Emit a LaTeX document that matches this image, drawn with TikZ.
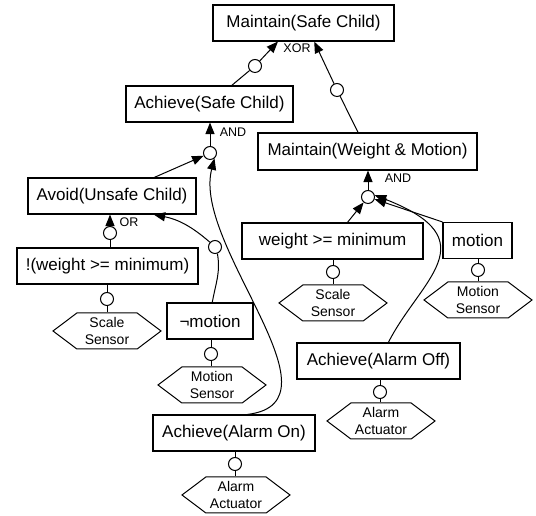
\documentclass[tikz,border=0pt]{standalone}
\usepackage{fontspec}
\setmainfont{Liberation Sans}
\usetikzlibrary{calc,arrows.meta,shapes.symbols}

\begin{document}
\begin{tikzpicture}[x=1pt,y=1pt,
    goal/.style={draw,line width=1.1pt,minimum height=36pt,inner sep=0pt,
      font=\fontsize{17}{20}\selectfont},
    agent/.style={draw,line width=1pt,shape=signal,signal to=east and west,
      signal pointer angle=74,minimum width=108pt,minimum height=36pt,
      inner sep=0pt,align=center,font=\fontsize{14}{17}\selectfont},
    ref/.style={draw,circle,line width=1pt,fill=white,minimum size=13pt,inner sep=0pt},
    op/.style={font=\fontsize{12.5}{14}\selectfont,inner sep=1pt},
    link/.style={line width=1pt},
    arr/.style={line width=1pt,-{Triangle[length=11.5pt,width=9pt]}}]

  \useasboundingbox (0,0) rectangle (536,516);

  \node[goal,minimum width=181pt] (maint) at (303.5,493) {Maintain(Safe Child)};
  \node[goal,minimum width=167pt] (achsc) at (209.5,412) {Achieve(Safe Child)};
  \node[goal,minimum width=219pt,minimum height=37pt] (wm) at (367.5,364.5) {Maintain(Weight \& Motion)};
  \node[goal,minimum width=168pt] (avoid) at (112,320) {Avoid(Unsafe Child)};
  \node[goal,minimum width=181pt] (weight) at (332.5,275) {weight >= minimum};
  \node[goal,minimum width=69pt] (motion) at (477.5,275.5) {motion};
  \node[goal,minimum width=181pt] (notweight) at (107.5,250) {!(weight >= minimum)};
  \node[goal,minimum width=86pt] (notmotion) at (210,195) {¬motion};
  \node[goal,minimum width=162pt] (alarmon) at (234,83) {Achieve(Alarm On)};
  \node[goal,minimum width=163pt] (alarmoff) at (378.5,155) {Achieve(Alarm Off)};

  \node[agent] (scaleL) at (107,185) {Scale\\Sensor};
  \node[agent] (motionL) at (212,131) {Motion\\Sensor};
  \node[agent] (actL) at (236,21) {Alarm\\Actuator};
  \node[agent] (scaleR) at (333,213) {Scale\\Sensor};
  \node[agent] (motionR) at (478,216) {Motion\\Sensor};
  \node[agent] (actR) at (381,95) {Alarm\\Actuator};

  \node[ref] (c1) at (255,450) {};
  \node[ref] (c2) at (337,426) {};
  \node[ref] (c3) at (210,363) {};
  \node[ref] (c4) at (368,319) {};
  \node[ref] (c5) at (110,283) {};
  \node[ref] (c6) at (215,269) {};
  \node[ref] (c7) at (107,217) {};
  \node[ref] (c8) at (211,162) {};
  \node[ref] (c9) at (235,52) {};
  \node[ref] (c10) at (333,244) {};
  \node[ref] (c11) at (478,246) {};
  \node[ref] (c12) at (380,124) {};

  \draw[link] (achsc) -- (c1);
  \draw[arr] (c1) -- (maint.216);
  \draw[link] (wm) -- (c2);
  \draw[arr] (c2) -- (maint.-60);
  \node[op] (xor) at (297,468) {XOR};

  \draw[arr] (c3) -- (c3 |- achsc.south);
  \node[op] (and1) at (233,384) {AND};
  \draw[arr] (avoid) -- (c3);
  \draw[arr] (alarmon.54) .. controls (348,114) and (192,271) .. (c3.-50);

  \draw[arr] (c4) -- (c4 |- wm.south);
  \node[op] (and2) at (398,338) {AND};
  \draw[arr] (weight) -- (c4);
  \draw[arr] (motion.north west) -- (c4);
  \draw[arr] (alarmoff.62) .. controls (420,236) and (490,276) .. (c4.15);

  \draw[arr] (c5) -- (c5 |- avoid.south);
  \node[op] (or) at (129,294) {OR};
  \draw[link] (notweight.north -| c5) -- (c5);
  \draw[link] (notmotion.83) to[out=80,in=-80] (c6.-70);
  \draw[arr] (c6) to[bend right=15] (avoid.-24);

  \draw[link] (notweight.south -| c7) -- (c7) -- (c7 |- scaleL.north);
  \draw[link] (notmotion.south -| c8) -- (c8) -- (c8 |- motionL.north);
  \draw[link] (alarmon.south -| c9) -- (c9) -- (c9 |- actL.north);
  \draw[link] (weight.south -| c10) -- (c10) -- (c10 |- scaleR.north);
  \draw[link] (motion.south -| c11) -- (c11) -- (c11 |- motionR.north);
  \draw[link] (alarmoff.south -| c12) -- (c12) -- (c12 |- actR.north);
\end{tikzpicture}
\end{document}
